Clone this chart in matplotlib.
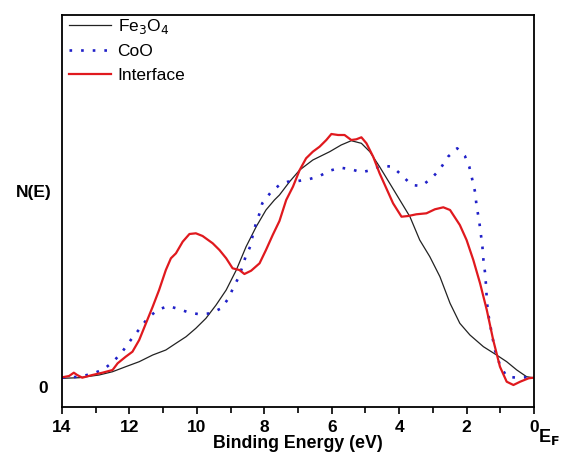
import matplotlib
matplotlib.use("Agg")
import matplotlib.pyplot as plt
from matplotlib.ticker import MultipleLocator
from matplotlib.transforms import ScaledTranslation

plt.rcParams['font.family'] = ['Liberation Sans', 'DejaVu Sans']

# Fe3O4
fe_E = [13.99, 13.49, 12.90, 12.50, 12.11, 11.71, 11.31, 10.92, 10.62, 10.32, 10.03, 9.73, 9.43,
        9.13, 8.83, 8.54, 8.24, 7.95, 7.70, 7.55, 7.25, 6.95, 6.56, 6.06, 5.72, 5.42, 5.12, 4.87,
        4.58, 4.28, 3.98, 3.68, 3.39, 3.09, 2.79, 2.49, 2.20, 1.90, 1.50, 1.11, 0.81, 0.51, 0.22, 0.02]
fe_N = [1.7, 2.3, 5, 8.3, 13.3, 18.3, 25, 30, 36.7, 43.3, 51.7, 61.7, 75,
        90, 110, 133.3, 153.3, 170, 180, 185, 198.3, 210, 220, 228.3, 235, 239.3, 236.7, 228.3,
        213.3, 196.7, 180, 163.3, 140, 123.3, 103.3, 76.7, 56.7, 45, 33.3, 25, 18.3, 10, 3.3, 2.3]

# CoO
co_E = [13.99, 13.69, 13.38, 13.06, 12.75, 12.45, 12.19, 11.96, 11.71, 11.46, 11.17, 10.85, 10.54,
        10.22, 9.91, 9.58, 9.28, 9.06, 8.92, 8.74, 8.56, 8.42, 8.34, 8.26, 8.14, 8.06, 7.80, 7.55,
        7.30, 7.00, 6.68, 6.36, 6.06, 5.74, 5.42, 5.12, 4.82, 4.53, 4.20, 3.93, 3.63, 3.34, 3.04,
        2.79, 2.55, 2.28, 2.05, 1.92, 1.85, 1.75, 1.70, 1.63, 1.58, 1.53, 1.50, 1.45, 1.42, 1.40,
        1.36, 1.29, 1.16, 1.01, 0.81, 0.51, 0.22, 0.02]
co_N = [2.3, 2.7, 4, 6.7, 11, 19.3, 29.3, 40, 50.7, 61.7, 70, 74, 71,
        67.3, 65.7, 66.7, 71.7, 81.7, 92.3, 104, 122.7, 133.3, 145, 155, 166.7, 176.7, 188, 195,
        198.3, 199, 200.7, 204, 209.3, 212.3, 210.7, 207.7, 210, 214.3, 213.3, 205, 195, 194, 201.7,
        210.7, 223.3, 231.7, 224, 213.3, 203.3, 188.3, 173.3, 160, 146.7, 133.3, 120, 106.7, 93.3, 80,
        66.7, 53.3, 30, 15, 3.3, 2.3, 2.7, 2.3]

# Interface
in_E = [13.99, 13.79, 13.65, 13.55, 13.40, 13.10, 12.80, 12.50, 12.35, 12.11, 11.91, 11.71, 11.51,
        11.31, 11.12, 10.92, 10.77, 10.62, 10.42, 10.22, 10.03, 9.83, 9.53, 9.33, 9.13, 8.94, 8.74,
        8.59, 8.39, 8.14, 7.95, 7.75, 7.55, 7.35, 7.15, 6.95, 6.76, 6.56, 6.36, 6.16, 6.01, 5.81,
        5.62, 5.42, 5.27, 5.12, 4.97, 4.77, 4.58, 4.38, 4.18, 3.93, 3.73, 3.49, 3.19, 2.94, 2.69,
        2.49, 2.20, 2.00, 1.80, 1.60, 1.40, 1.21, 1.01, 0.81, 0.61, 0.41, 0.16, 0.02]
in_N = [2.7, 4, 7.3, 5, 2.3, 5, 7.3, 10, 16.7, 23.3, 28.3, 40, 56.7,
        73.3, 90, 110, 121.7, 126.7, 138.3, 146, 146.7, 144, 136.7, 130, 121.7, 111.7, 110,
        106, 109.3, 116.7, 130, 145, 159, 180, 193.3, 210, 221.7, 228.3, 233.3, 240, 246, 245,
        245, 240, 240.7, 242.7, 236.7, 223.3, 206.7, 191.7, 176.7, 163.3, 164, 165.7, 166.7, 170.7, 172.7,
        170, 155, 140, 120, 96.7, 70, 40, 13.3, -1.7, -5, -1.7, 1.7, 2.3]

xticks = [14, 12, 10, 8, 6, 4, 2, 0]

fig = plt.figure(figsize=(5.64, 4.55), dpi=100)
ax = fig.add_axes([62/564, 48/455, 472/564, 392/455])

ax.plot(fe_E, fe_N, color='#222222', lw=0.9, label='Fe$_3$O$_4$')
ax.plot(co_E, co_N, color='#2020c8', lw=1.9, linestyle=(0, (1, 3.4)), label='CoO')
ax.plot(in_E, in_N, color='#e0191e', lw=1.6, label='Interface')

ax.set_xlim(14, 0)
ax.set_ylim(-27, 365)
ax.set_xticks(xticks)
ax.set_xticklabels([str(t) for t in xticks], fontsize=12.5, fontweight='bold')
ax.xaxis.set_minor_locator(MultipleLocator(1))
ax.tick_params(axis='x', which='major', direction='out', length=5, width=1.2, pad=4)
ax.tick_params(axis='x', which='minor', direction='out', length=4, width=1.2)
ax.set_yticks([0])
ax.set_yticklabels(['0'], fontsize=12.5, fontweight='bold')
ax.tick_params(axis='y', length=0, pad=10)
for lab in ax.get_yticklabels():
    lab.set_transform(lab.get_transform() + ScaledTranslation(0, -7/100, fig.dpi_scale_trans))
for s in ax.spines.values():
    s.set_linewidth(1.3)

ax.set_xlabel('Binding Energy (eV)', fontsize=12.8, fontweight='bold', labelpad=0)
fig.text(34/564, 1 - 192/455, 'N(E)', fontsize=12.5, fontweight='bold', ha='center', va='center')
fig.text(549/564, 1 - 437/455, 'E$_\\mathbf{F}$', fontsize=13, fontweight='bold', ha='center', va='center')

leg = ax.legend(loc='upper left', bbox_to_anchor=(0.013, 0.998), frameon=False, fontsize=12.5,
                handlelength=2.4, borderaxespad=0, labelspacing=0.5, handletextpad=0.4,
                borderpad=0.05)

fig.savefig('out.png', dpi=100)
